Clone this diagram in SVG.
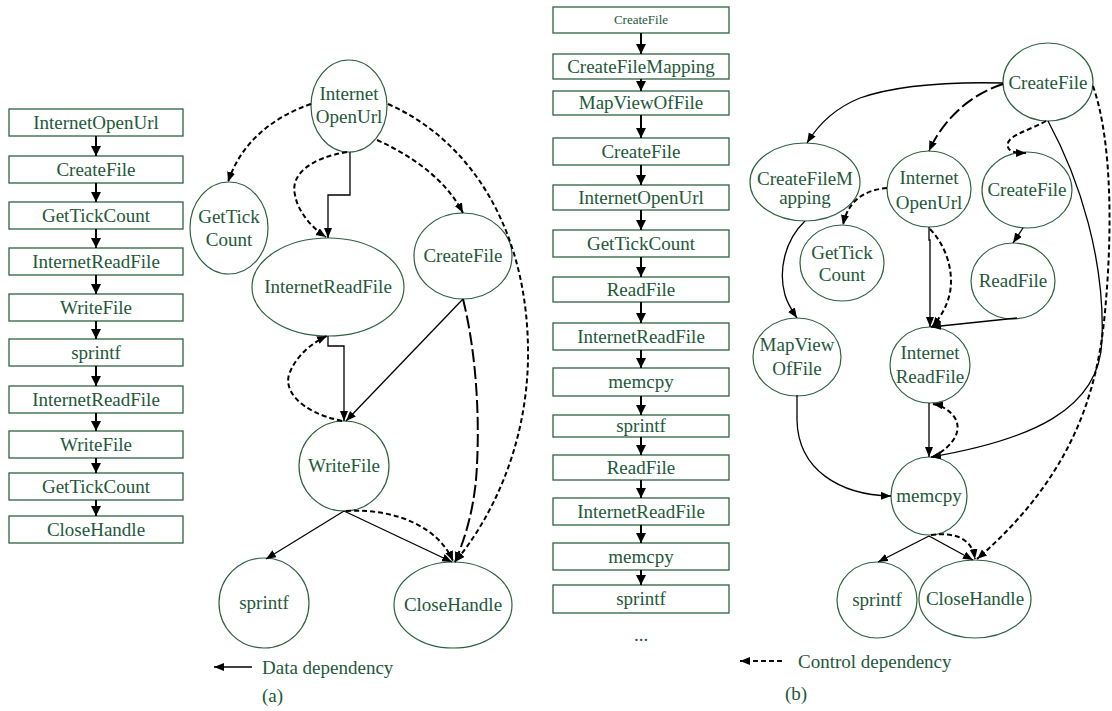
<svg xmlns="http://www.w3.org/2000/svg" width="1112" height="711" viewBox="0 0 1112 711">
<style>
.box{fill:#fff;stroke:#2f6140;stroke-width:1.3}
.nd{fill:#fff;stroke:#2f6140;stroke-width:1.2}
.t{font-family:"Liberation Serif","Times New Roman",serif;font-size:19px;fill:#23583a;text-anchor:middle}
.tl{font-family:"Liberation Serif","Times New Roman",serif;font-size:19px;fill:#23583a}
.sm{font-size:13px}
.la{stroke:#000;stroke-width:2;fill:none;marker-end:url(#big)}
.s{stroke:#000;stroke-width:1.3;fill:none;marker-end:url(#ah)}
.d{stroke:#000;stroke-width:2;stroke-dasharray:5 3;fill:none;marker-end:url(#ah)}
.ld{stroke:#000;stroke-width:2;stroke-dasharray:13 4;fill:none;marker-end:url(#ah)}
</style>
<defs>
<marker id="ah" markerUnits="userSpaceOnUse" markerWidth="11" markerHeight="9" refX="10" refY="4" orient="auto"><path d="M0,0 L10,4 L0,8 z" fill="#000"/></marker>
<marker id="big" markerUnits="userSpaceOnUse" markerWidth="11" markerHeight="11" refX="10" refY="5" orient="auto"><path d="M0,0 L10,5 L0,10 z" fill="#000"/></marker>
</defs>
<rect width="1112" height="711" fill="#fff"/>

<!-- Left list -->
<g id="listA">
<g id="la1"><rect class="box" x="9" y="109" width="174" height="27"/><text class="t" x="96" y="129">InternetOpenUrl</text></g>
<g id="la2"><rect class="box" x="9" y="156" width="174" height="27"/><text class="t" x="96" y="176">CreateFile</text></g>
<g id="la3"><rect class="box" x="9" y="202" width="174" height="27"/><text class="t" x="96" y="222">GetTickCount</text></g>
<g id="la4"><rect class="box" x="9" y="248" width="174" height="27"/><text class="t" x="96" y="268">InternetReadFile</text></g>
<g id="la5"><rect class="box" x="9" y="294" width="174" height="27"/><text class="t" x="96" y="314">WriteFile</text></g>
<g id="la6"><rect class="box" x="9" y="339" width="174" height="27"/><text class="t" x="96" y="359">sprintf</text></g>
<g id="la7"><rect class="box" x="9" y="386" width="174" height="27"/><text class="t" x="96" y="406">InternetReadFile</text></g>
<g id="la8"><rect class="box" x="9" y="431" width="174" height="27"/><text class="t" x="96" y="451">WriteFile</text></g>
<g id="la9"><rect class="box" x="9" y="473" width="174" height="27"/><text class="t" x="96" y="493">GetTickCount</text></g>
<g id="la10"><rect class="box" x="9" y="516" width="174" height="27"/><text class="t" x="96" y="536">CloseHandle</text></g>
</g>

<!-- Middle list -->
<g id="listB">
<g id="lb1"><rect class="box" x="553" y="7" width="176" height="26"/><text class="t sm" x="641" y="24">CreateFile</text></g>
<g id="lb2"><rect class="box" x="553" y="54" width="176" height="25"/><text class="t" x="641" y="73">CreateFileMapping</text></g>
<g id="lb3"><rect class="box" x="553" y="91" width="176" height="24"/><text class="t" x="641" y="109">MapViewOfFile</text></g>
<g id="lb4"><rect class="box" x="553" y="138" width="176" height="27"/><text class="t" x="641" y="158">CreateFile</text></g>
<g id="lb5"><rect class="box" x="553" y="185" width="176" height="25"/><text class="t" x="641" y="204">InternetOpenUrl</text></g>
<g id="lb6"><rect class="box" x="553" y="230" width="176" height="27"/><text class="t" x="641" y="250">GetTickCount</text></g>
<g id="lb7"><rect class="box" x="553" y="277" width="176" height="25"/><text class="t" x="641" y="296">ReadFile</text></g>
<g id="lb8"><rect class="box" x="553" y="323" width="176" height="27"/><text class="t" x="641" y="343">InternetReadFile</text></g>
<g id="lb9"><rect class="box" x="553" y="368" width="176" height="28"/><text class="t" x="641" y="388">memcpy</text></g>
<g id="lb10"><rect class="box" x="553" y="415" width="176" height="22"/><text class="t" x="641" y="432">sprintf</text></g>
<g id="lb11"><rect class="box" x="553" y="455" width="176" height="25"/><text class="t" x="641" y="474">ReadFile</text></g>
<g id="lb12"><rect class="box" x="553" y="498" width="176" height="27"/><text class="t" x="641" y="518">InternetReadFile</text></g>
<g id="lb13"><rect class="box" x="553" y="543" width="176" height="27"/><text class="t" x="641" y="563">memcpy</text></g>
<g id="lb14"><rect class="box" x="553" y="585" width="176" height="28"/><text class="t" x="641" y="605">sprintf</text></g>
<text class="t" x="641" y="641">...</text>
</g>

<!-- Graph (a) nodes -->
<g id="a_iou"><ellipse class="nd" cx="349" cy="106" rx="38" ry="46"/><text class="t" x="349" y="100">Internet</text><text class="t" x="349" y="123">OpenUrl</text></g>
<g id="a_gtc"><ellipse class="nd" cx="229" cy="228" rx="39" ry="46"/><text class="t" x="229" y="223">GetTick</text><text class="t" x="229" y="246">Count</text></g>
<g id="a_irf"><ellipse class="nd" cx="328" cy="287" rx="76" ry="49"/><text class="t" x="328" y="293">InternetReadFile</text></g>
<g id="a_cf"><ellipse class="nd" cx="463" cy="256" rx="49" ry="43"/><text class="t" x="463" y="262">CreateFile</text></g>
<g id="a_wf"><ellipse class="nd" cx="344" cy="466" rx="45" ry="45"/><text class="t" x="344" y="472">WriteFile</text></g>
<g id="a_sp"><ellipse class="nd" cx="264" cy="603" rx="45" ry="45"/><text class="t" x="264" y="609">sprintf</text></g>
<g id="a_ch"><ellipse class="nd" cx="453" cy="605" rx="59" ry="43"/><text class="t" x="453" y="611">CloseHandle</text></g>

<!-- Graph (b) nodes -->
<g id="b_cf"><ellipse class="nd" cx="1048" cy="82" rx="45" ry="39"/><text class="t" x="1048" y="89">CreateFile</text></g>
<g id="b_cfm"><ellipse class="nd" cx="805" cy="182" rx="55" ry="39"/><text class="t" x="805" y="185">CreateFileM</text><text class="t" x="805" y="204">apping</text></g>
<g id="b_iou"><ellipse class="nd" cx="929" cy="189" rx="42" ry="38"/><text class="t" x="929" y="184">Internet</text><text class="t" x="929" y="209">OpenUrl</text></g>
<g id="b_cf2"><ellipse class="nd" cx="1027" cy="190" rx="45" ry="38"/><text class="t" x="1027" y="196">CreateFile</text></g>
<g id="b_gtc"><ellipse class="nd" cx="842" cy="263" rx="42" ry="38"/><text class="t" x="842" y="259">GetTick</text><text class="t" x="842" y="281">Count</text></g>
<g id="b_rf"><ellipse class="nd" cx="1013" cy="281" rx="42" ry="38"/><text class="t" x="1013" y="287">ReadFile</text></g>
<g id="b_mv"><ellipse class="nd" cx="797" cy="357" rx="44" ry="39"/><text class="t" x="797" y="351">MapView</text><text class="t" x="797" y="375">OfFile</text></g>
<g id="b_irf"><ellipse class="nd" cx="930" cy="365" rx="40" ry="38"/><text class="t" x="930" y="359">Internet</text><text class="t" x="930" y="383">ReadFile</text></g>
<g id="b_mc"><ellipse class="nd" cx="929" cy="496" rx="38" ry="39"/><text class="t" x="929" y="502">memcpy</text></g>
<g id="b_sp"><ellipse class="nd" cx="877" cy="600" rx="40" ry="38"/><text class="t" x="877" y="606">sprintf</text></g>
<g id="b_ch"><ellipse class="nd" cx="975" cy="599" rx="56" ry="39"/><text class="t" x="975" y="605">CloseHandle</text></g>

<!-- Connectors -->
<g id="connectors">
<!-- list A arrows -->
<path class="la" d="M96,136 V156"/>
<path class="la" d="M96,183 V202"/>
<path class="la" d="M96,229 V248"/>
<path class="la" d="M96,275 V294"/>
<path class="la" d="M96,321 V339"/>
<path class="la" d="M96,366 V386"/>
<path class="la" d="M96,413 V431"/>
<path class="la" d="M96,458 V473"/>
<path class="la" d="M96,500 V516"/>
<!-- list B arrows -->
<path class="la" d="M641,33 V54"/>
<path class="la" d="M641,79 V91"/>
<path class="la" d="M641,115 V138"/>
<path class="la" d="M641,165 V185"/>
<path class="la" d="M641,210 V230"/>
<path class="la" d="M641,257 V277"/>
<path class="la" d="M641,302 V323"/>
<path class="la" d="M641,350 V368"/>
<path class="la" d="M641,396 V415"/>
<path class="la" d="M641,437 V455"/>
<path class="la" d="M641,480 V498"/>
<path class="la" d="M641,525 V543"/>
<path class="la" d="M641,570 V585"/>

<!-- graph (a) -->
<path class="d" d="M311,104 C270,118 240,145 228,182"/>
<path class="s" d="M350,152 V195 H328 V238"/>
<path class="d" d="M347,152 C310,158 290,175 295,195 C298,212 312,228 326,237"/>
<path class="d" d="M377,140 C410,155 445,178 463,213"/>
<path class="d" d="M388,104 C470,140 530,230 528,360 C526,450 490,520 455,562"/>
<path class="s" d="M328,336 V346 H344 V421"/>
<path class="d" d="M342,421 C300,412 282,390 290,372 C297,355 312,343 327,336"/>
<path class="s" d="M463,299 L346,421"/>
<path class="ld" d="M463,299 C478,360 480,430 476,480 C472,520 462,545 455,562"/>
<path class="s" d="M344,511 L266,559"/>
<path class="s" d="M344,511 L452,562"/>
<path class="d" d="M346,511 C400,508 440,530 453,561"/>

<!-- graph (b) -->
<path class="s" d="M1003,83 C960,82 900,84 860,98 C835,108 818,125 807,143"/>
<path class="ld" d="M1003,84 C975,93 945,115 929,151"/>
<path class="d" d="M1046,121 C1030,130 1010,135 1008,143 C1006,152 1015,153 1026,153"/>
<path class="s" d="M1048,121 C1080,180 1105,260 1102,340 C1100,410 1030,440 931,457"/>
<path class="d" d="M1093,86 C1112,140 1112,230 1106,300 C1100,380 1080,470 977,559"/>
<path class="s" d="M805,221 C785,240 778,270 785,295 C788,305 793,312 797,318"/>
<path class="d" d="M887,188 C865,190 848,200 843,225"/>
<path class="s" d="M929,227 V240 H930 V327"/>
<path class="d" d="M930,229 C950,250 955,280 948,300 C944,312 938,320 932,327"/>
<path class="s" d="M1023,228 L1013,243"/>
<path class="s" d="M1017,318 C980,322 950,325 931,327"/>
<path class="s" d="M797,395 V420 C798,470 840,495 891,496"/>
<path class="s" d="M929,403 V457"/>
<path class="d" d="M933,457 C955,445 962,430 955,418 C950,410 940,405 933,404"/>
<path class="s" d="M929,536 L878,562"/>
<path class="s" d="M929,536 L973,560"/>
<path class="d" d="M931,535 C955,532 972,538 975,559"/>
</g>

<!-- Legends -->
<g id="legendA">
<path class="s" d="M252,667 H214"/>
<text class="tl" x="262" y="674">Data dependency</text>
<text class="tl" x="262" y="702">(a)</text>
</g>
<g id="legendB">
<path class="d" d="M782,661 H740"/>
<text class="tl" x="798" y="668">Control dependency</text>
<text class="tl" x="785" y="700">(b)</text>
</g>
</svg>
